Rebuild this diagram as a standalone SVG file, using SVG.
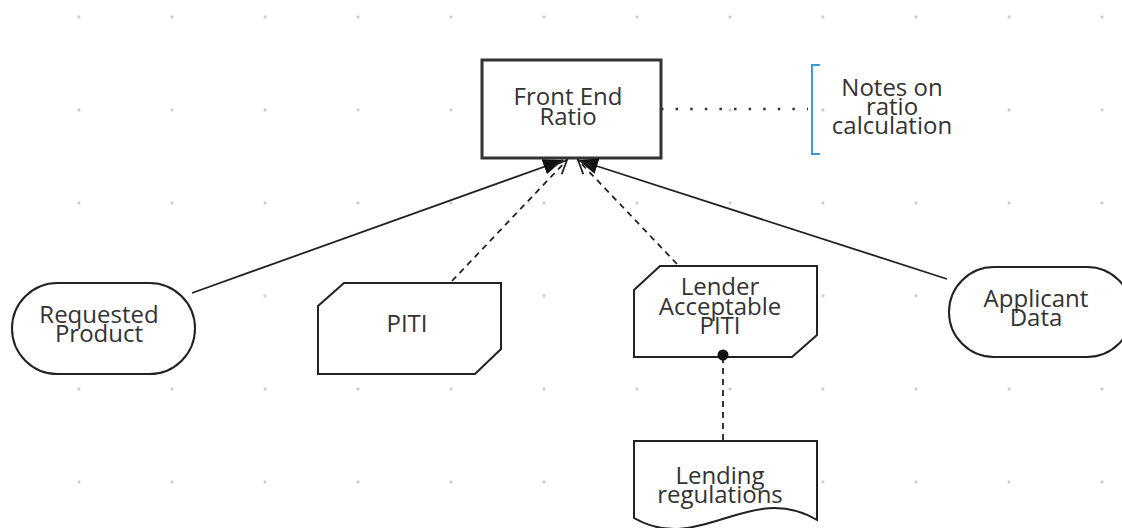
<svg xmlns="http://www.w3.org/2000/svg" width="1122" height="528" viewBox="0 0 1122 528">
<style>
  text{font-family:"Open Sans","Liberation Sans",sans-serif;font-size:24px;fill:#333;text-anchor:middle}
  .shape{fill:#fff;stroke:#222;stroke-width:2}
  .conn{fill:none;stroke:#222;stroke-width:1.8}
  .dash{stroke-dasharray:6 5}
  .dot{stroke-dasharray:2.5 12.1;stroke:#333;stroke-width:2.5}
</style>
<defs>
  <pattern id="grid" x="77.5" y="15.5" width="93" height="93" patternUnits="userSpaceOnUse">
    <circle cx="1.5" cy="1.5" r="1.4" fill="#c2c2c2"/>
  </pattern>
  <marker id="fill" markerUnits="userSpaceOnUse" markerWidth="22" markerHeight="18" refX="20" refY="8" orient="auto" viewBox="0 0 22 18">
    <path d="M0,0 L20,8 L0,16 Z" fill="#111"/>
  </marker>
  <marker id="open" markerUnits="userSpaceOnUse" markerWidth="18" markerHeight="16" refX="15" refY="7" orient="auto" viewBox="0 0 18 16">
    <path d="M1,1 L15,7 L1,13" fill="none" stroke="#222" stroke-width="1.8"/>
  </marker>
  <marker id="ball" markerUnits="userSpaceOnUse" markerWidth="13" markerHeight="13" refX="6.5" refY="6.5" orient="auto" viewBox="0 0 13 13">
    <circle cx="6.5" cy="6.5" r="5.5" fill="#111"/>
  </marker>
</defs>
<rect width="1122" height="528" fill="#fff"/>
<rect width="1122" height="528" fill="url(#grid)"/>

<g id="node-front-end-ratio">
  <rect x="482" y="60" width="179" height="98" fill="#fff" stroke="#333" stroke-width="3"/>
  <text x="568" y="105">Front End</text>
  <text x="568" y="125">Ratio</text>
</g>
<g id="node-notes">
  <path d="M820,65 L812,65 L812,154 L820,154" fill="none" stroke="#3a9ad9" stroke-width="2"/>
  <text x="892" y="96">Notes on</text>
  <text x="892" y="115">ratio</text>
  <text x="892" y="134">calculation</text>
</g>
<g id="node-requested-product">
  <rect class="shape" x="12" y="283" width="183" height="91" rx="45.5" ry="45.5"/>
  <text x="99" y="323">Requested</text>
  <text x="99" y="342">Product</text>
</g>
<g id="node-piti">
  <path class="shape" d="M344,283 L501,283 L501,349 L475,374 L318,374 L318,306 Z"/>
  <text x="407" y="332">PITI</text>
</g>
<g id="node-lender-acceptable-piti">
  <path class="shape" d="M660,266 L817,266 L817,335 L792,357 L634,357 L634,290 Z"/>
  <text x="720" y="295">Lender</text>
  <text x="720" y="315">Acceptable</text>
  <text x="720" y="334">PITI</text>
</g>
<g id="node-applicant-data">
  <rect class="shape" x="949" y="267" width="183" height="90" rx="45" ry="45"/>
  <text x="1036" y="307">Applicant</text>
  <text x="1036" y="326">Data</text>
</g>
<g id="node-lending-regulations">
  <path class="shape" d="M634,441 L817,441 L817,520 C750,480 700,556 634,518 Z"/>
  <text x="720" y="484">Lending</text>
  <text x="720" y="503">regulations</text>
</g>

<g id="connectors">
  <line class="conn" x1="192" y1="293" x2="563" y2="160" marker-end="url(#fill)"/>
  <line class="conn" x1="947" y1="279" x2="578" y2="160" marker-end="url(#fill)"/>
  <line class="conn dash" x1="452" y1="281" x2="567" y2="160" marker-end="url(#open)"/>
  <line class="conn dash" x1="677" y1="264" x2="578" y2="160" marker-end="url(#open)"/>
  <line class="conn dash" x1="723" y1="440" x2="723" y2="355" marker-end="url(#ball)"/>
  <line class="conn dot" x1="661" y1="109" x2="808" y2="109"/>
</g>
</svg>
